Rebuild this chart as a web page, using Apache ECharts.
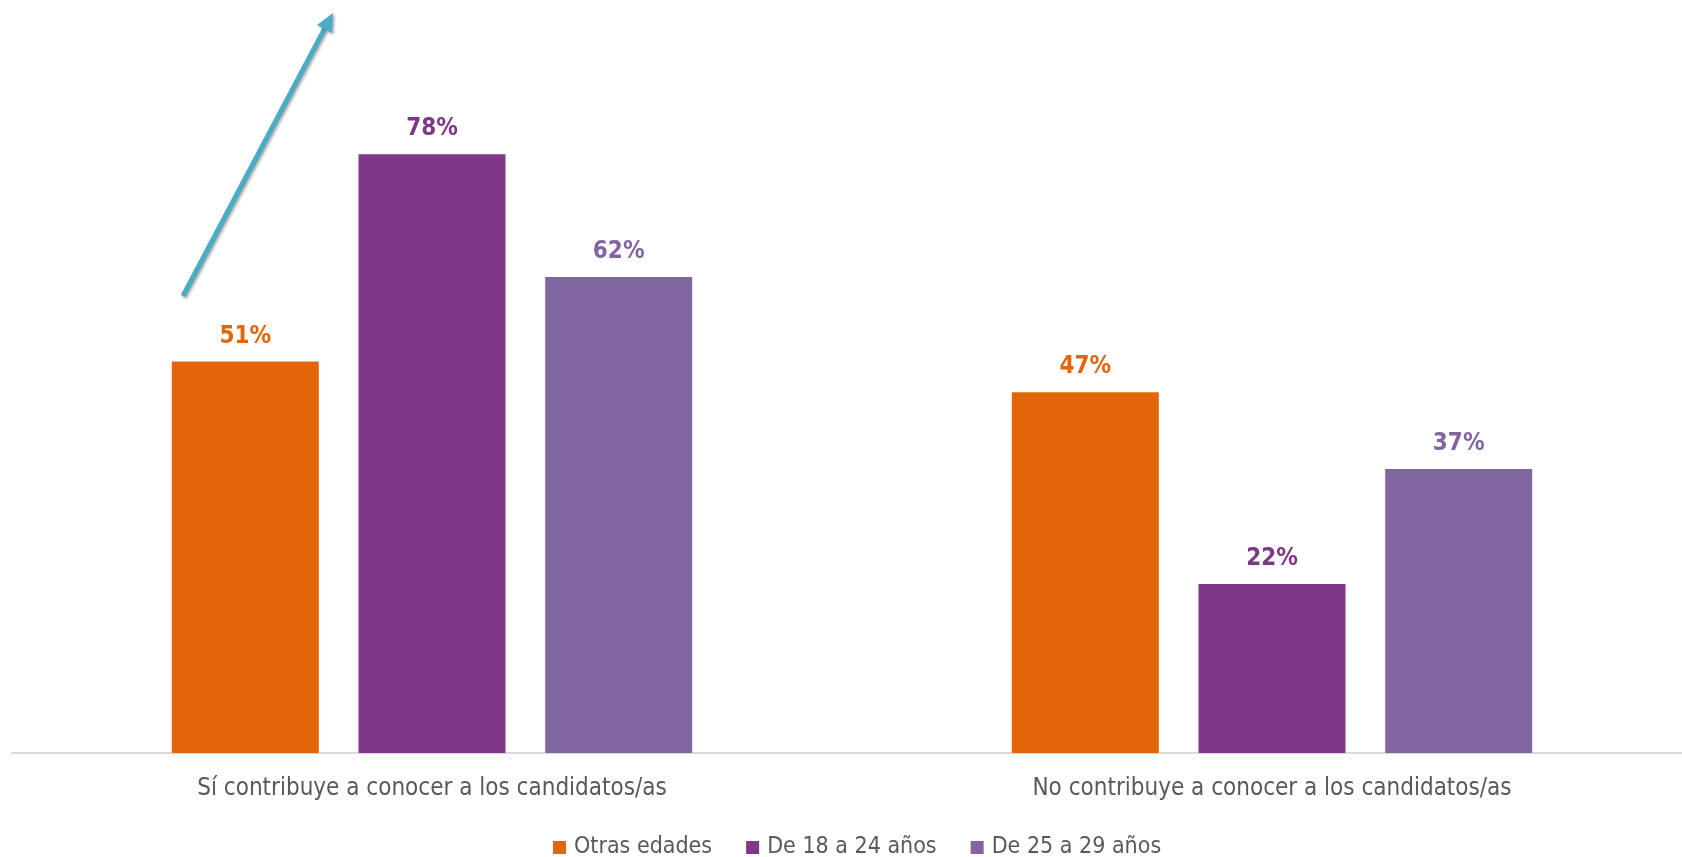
<!DOCTYPE html>
<html>
<head>
<meta charset="utf-8">
<script src="https://cdn.jsdelivr.net/npm/echarts@6/dist/echarts.min.js"></script>
<style>
  html, body { margin: 0; padding: 0; background: #fff; }
  #chart { width: 1682px; height: 857px; }
</style>
</head>
<body>
<div id="chart"></div>
<script>
// Survey answers grouped by age bracket
const categories = [
  'Sí contribuye a conocer a los candidatos/as',
  'No contribuye a conocer a los candidatos/as'
];
const seriesNames = ['Otras edades', 'De 18 a 24 años', 'De 25 a 29 años'];
const otrasEdades = [51, 47];
const de18a24 = [78, 22];
const de25a29 = [62, 37];
const seriesColors = ['#E3670A', '#7F3887', '#8065A1'];

const FONT = '"Liberation Sans Narrow", "DejaVu Sans Condensed", "Liberation Sans", sans-serif';

const chart = echarts.init(document.getElementById('chart'), null, { renderer: 'canvas' });

function barSeries(name, data, color) {
  return {
    name: name,
    type: 'bar',
    data: data,
    barWidth: 147,
    barGap: '27%',
    itemStyle: { color: color },
    label: {
      show: true,
      position: 'top',
      distance: 13,
      formatter: '{c}%',
      color: color,
      fontFamily: FONT,
      fontWeight: 'bold',
      fontSize: 24
    }
  };
}

// Trend arrow drawn above the first group
const arrowStart = [183, 296];
const arrowTip = [333, 13];
const dx = arrowTip[0] - arrowStart[0], dy = arrowTip[1] - arrowStart[1];
const len = Math.hypot(dx, dy);
const ux = dx / len, uy = dy / len;
const headLen = 18, headHalf = 8.5;
const base = [arrowTip[0] - ux * headLen, arrowTip[1] - uy * headLen];
const px = -uy, py = ux;
const arrowColor = '#4BACC6';
const arrowShadow = { shadowBlur: 3, shadowColor: 'rgba(0,0,0,0.35)', shadowOffsetX: 1.5, shadowOffsetY: 1.5 };

chart.setOption({
  backgroundColor: '#ffffff',
  animation: false,
  grid: {
    left: 12, width: 1680, top: 62, bottom: 104,
    containLabel: false,
    outerBoundsMode: 'none'
  },
  legend: {
    data: seriesNames,
    left: 548,
    top: 831,
    icon: 'rect',
    itemWidth: 13,
    itemHeight: 13,
    itemGap: 34,
    textStyle: { fontFamily: FONT, fontSize: 23, color: '#595959', padding: [0, 0, 0, 3] }
  },
  xAxis: {
    type: 'category',
    data: categories,
    axisLine: { show: true, lineStyle: { color: '#D9D9D9', width: 2 } },
    axisTick: { show: false },
    axisLabel: { margin: 24, fontFamily: FONT, fontSize: 24, color: '#595959' }
  },
  yAxis: {
    type: 'value',
    min: 0,
    max: 90,
    show: false,
    splitLine: { show: false }
  },
  series: [
    barSeries(seriesNames[0], otrasEdades, seriesColors[0]),
    barSeries(seriesNames[1], de18a24, seriesColors[1]),
    barSeries(seriesNames[2], de25a29, seriesColors[2])
  ],
  graphic: [
    {
      type: 'line',
      shape: { x1: arrowStart[0], y1: arrowStart[1], x2: base[0], y2: base[1] },
      style: Object.assign({ stroke: arrowColor, lineWidth: 5 }, arrowShadow),
      z: 10
    },
    {
      type: 'polygon',
      shape: {
        points: [
          arrowTip,
          [base[0] + px * headHalf, base[1] + py * headHalf],
          [base[0] - px * headHalf, base[1] - py * headHalf]
        ]
      },
      style: Object.assign({ fill: arrowColor }, arrowShadow),
      z: 10
    }
  ]
});
</script>
</body>
</html>
